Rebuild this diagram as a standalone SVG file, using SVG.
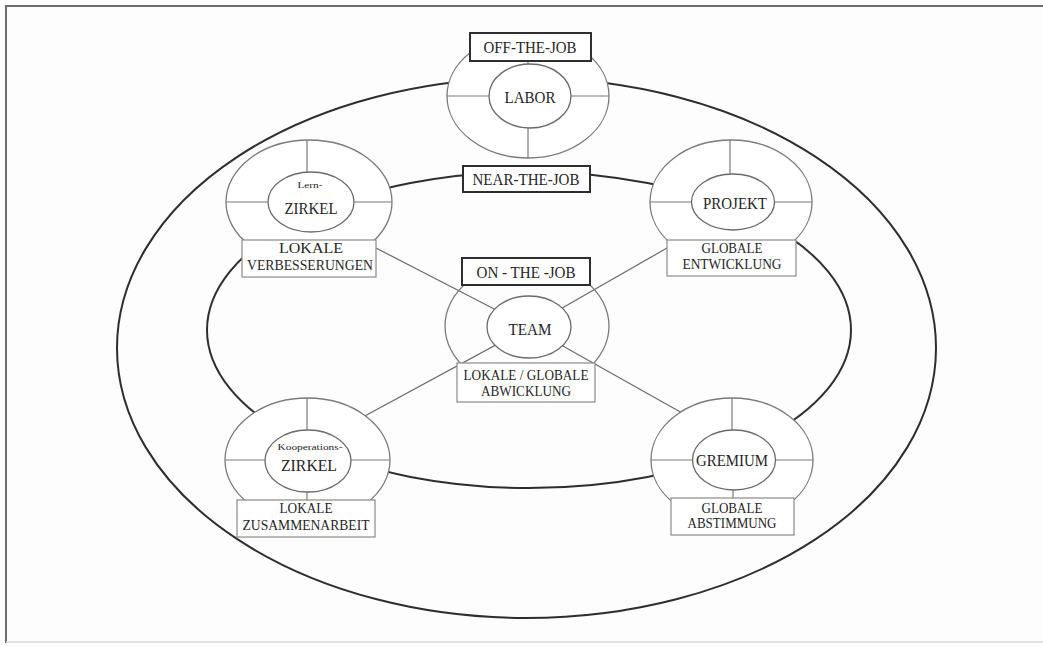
<svg xmlns="http://www.w3.org/2000/svg" width="1043" height="646" viewBox="0 0 1043 646">
<style>
text{font-family:"Liberation Serif","Times New Roman",serif;fill:#262626;text-anchor:middle}
.big{fill:none;stroke:#2e2e2e;stroke-width:2}
.outer{fill:#fff;stroke:#7a7a7a;stroke-width:1.3}
.inner{fill:#fff;stroke:#6a6a6a;stroke-width:1.3}
.div{stroke:#7a7a7a;stroke-width:1.2}
.lbl{fill:#fff;stroke:#2e2e2e;stroke-width:2}
.box{fill:#fff;stroke:#8a8a8a;stroke-width:1.2}
.con{stroke:#6a6a6a;stroke-width:1.2;fill:none}
.t15{font-size:16.5px}
.t14{font-size:14.5px}
.t8{font-size:8.5px}
</style>
<rect x="0" y="0" width="1043" height="646" fill="#fdfdfd"/>
<g id="frame">
<line x1="5" y1="6" x2="1043" y2="6" stroke="#6e6e6e" stroke-width="2"/>
<line x1="6" y1="5" x2="6" y2="643" stroke="#6e6e6e" stroke-width="2"/>
<line x1="6" y1="642" x2="1043" y2="642" stroke="#d8d8d8" stroke-width="1.5"/>
</g>
<g id="rings">
<ellipse class="big" cx="526.5" cy="348" rx="409.5" ry="270"/>
<ellipse class="big" cx="529" cy="330" rx="322" ry="158"/>
</g>
<g id="connectors">
<line class="con" x1="376" y1="248" x2="529" y2="327"/>
<line class="con" x1="667" y1="248" x2="529" y2="327"/>
<line class="con" x1="529" y1="327" x2="350" y2="424"/>
<line class="con" x1="529" y1="327" x2="700" y2="423"/>
</g>
<g id="labor">
<ellipse class="outer" cx="528" cy="96" rx="81" ry="62"/>
<line class="div" x1="447" y1="96" x2="489" y2="96"/>
<line class="div" x1="571" y1="96" x2="609" y2="96"/>
<line class="div" x1="528" y1="60" x2="528" y2="65"/>
<line class="div" x1="528" y1="127" x2="528" y2="158"/>
<ellipse class="inner" cx="530" cy="96" rx="41" ry="32"/>
<text class="t15" x="530" y="103" textLength="51" lengthAdjust="spacingAndGlyphs">LABOR</text>
<rect class="lbl" x="470" y="33" width="121" height="28"/>
<text class="t15" x="530" y="53" textLength="93" lengthAdjust="spacingAndGlyphs">OFF-THE-JOB</text>
</g>
<g id="near">
<rect class="lbl" x="463" y="166" width="127" height="26"/>
<text class="t15" x="526" y="185" textLength="107" lengthAdjust="spacingAndGlyphs">NEAR-THE-JOB</text>
</g>
<g id="lernzirkel">
<ellipse class="outer" cx="309" cy="202" rx="83" ry="62"/>
<line class="div" x1="226" y1="202" x2="268" y2="202"/>
<line class="div" x1="354" y1="202" x2="392" y2="202"/>
<line class="div" x1="307" y1="140" x2="307" y2="172"/>
<ellipse class="inner" cx="311" cy="202" rx="43" ry="30"/>
<text class="t8" x="310" y="188" textLength="25" lengthAdjust="spacingAndGlyphs">Lern-</text>
<text class="t15" x="311" y="214" textLength="53" lengthAdjust="spacingAndGlyphs">ZIRKEL</text>
<rect class="box" x="242" y="240" width="134" height="37"/>
<text class="t14" x="311" y="253" textLength="64" lengthAdjust="spacingAndGlyphs">LOKALE</text>
<text class="t14" x="310" y="270" textLength="126" lengthAdjust="spacingAndGlyphs">VERBESSERUNGEN</text>
</g>
<g id="projekt">
<ellipse class="outer" cx="731" cy="202" rx="81" ry="62"/>
<line class="div" x1="650" y1="202" x2="692" y2="202"/>
<line class="div" x1="774" y1="202" x2="812" y2="202"/>
<line class="div" x1="730" y1="140" x2="730" y2="175"/>
<ellipse class="inner" cx="733" cy="202" rx="41.5" ry="28"/>
<text class="t15" x="735" y="209" textLength="64" lengthAdjust="spacingAndGlyphs">PROJEKT</text>
<rect class="box" x="667" y="240" width="129" height="36"/>
<text class="t14" x="732" y="253" textLength="61" lengthAdjust="spacingAndGlyphs">GLOBALE</text>
<text class="t14" x="732" y="269" textLength="99" lengthAdjust="spacingAndGlyphs">ENTWICKLUNG</text>
</g>
<g id="team">
<ellipse cx="527" cy="326" rx="82" ry="64" fill="none" stroke="#7a7a7a" stroke-width="1.3"/>
<ellipse class="inner" cx="529" cy="327" rx="42" ry="31"/>
<text class="t15" x="530" y="335" textLength="43" lengthAdjust="spacingAndGlyphs">TEAM</text>
<rect class="lbl" x="462" y="258" width="128" height="27"/>
<text class="t15" x="526" y="278" textLength="99" lengthAdjust="spacingAndGlyphs">ON - THE -JOB</text>
<rect class="box" x="457" y="363" width="138" height="39"/>
<text class="t14" x="526" y="380" textLength="125" lengthAdjust="spacingAndGlyphs">LOKALE / GLOBALE</text>
<text class="t14" x="526" y="396" textLength="90" lengthAdjust="spacingAndGlyphs">ABWICKLUNG</text>
</g>
<g id="kooperationszirkel">
<ellipse class="outer" cx="307.5" cy="460" rx="82.5" ry="62"/>
<line class="div" x1="225" y1="460" x2="265" y2="460"/>
<line class="div" x1="351" y1="460" x2="390" y2="460"/>
<line class="div" x1="307" y1="398" x2="307" y2="430"/>
<line class="div" x1="307" y1="491" x2="307" y2="500"/>
<ellipse class="inner" cx="308" cy="461" rx="43" ry="31"/>
<text class="t8" x="310" y="450" textLength="65" lengthAdjust="spacingAndGlyphs">Kooperations-</text>
<text class="t15" x="309" y="471" textLength="56" lengthAdjust="spacingAndGlyphs">ZIRKEL</text>
<rect class="box" x="237" y="500" width="138" height="37"/>
<text class="t14" x="306" y="513" textLength="53" lengthAdjust="spacingAndGlyphs">LOKALE</text>
<text class="t14" x="306" y="530" textLength="127" lengthAdjust="spacingAndGlyphs">ZUSAMMENARBEIT</text>
</g>
<g id="gremium">
<ellipse class="outer" cx="732" cy="460" rx="81" ry="62"/>
<line class="div" x1="651" y1="460" x2="693" y2="460"/>
<line class="div" x1="775" y1="460" x2="813" y2="460"/>
<line class="div" x1="732" y1="398" x2="732" y2="430"/>
<line class="div" x1="733" y1="489" x2="733" y2="498"/>
<ellipse class="inner" cx="734" cy="460" rx="41.5" ry="30"/>
<text class="t15" x="732" y="466" textLength="72" lengthAdjust="spacingAndGlyphs">GREMIUM</text>
<rect class="box" x="671" y="498" width="123" height="37"/>
<text class="t14" x="732" y="513" textLength="61" lengthAdjust="spacingAndGlyphs">GLOBALE</text>
<text class="t14" x="732" y="528" textLength="89" lengthAdjust="spacingAndGlyphs">ABSTIMMUNG</text>
</g>
</svg>
